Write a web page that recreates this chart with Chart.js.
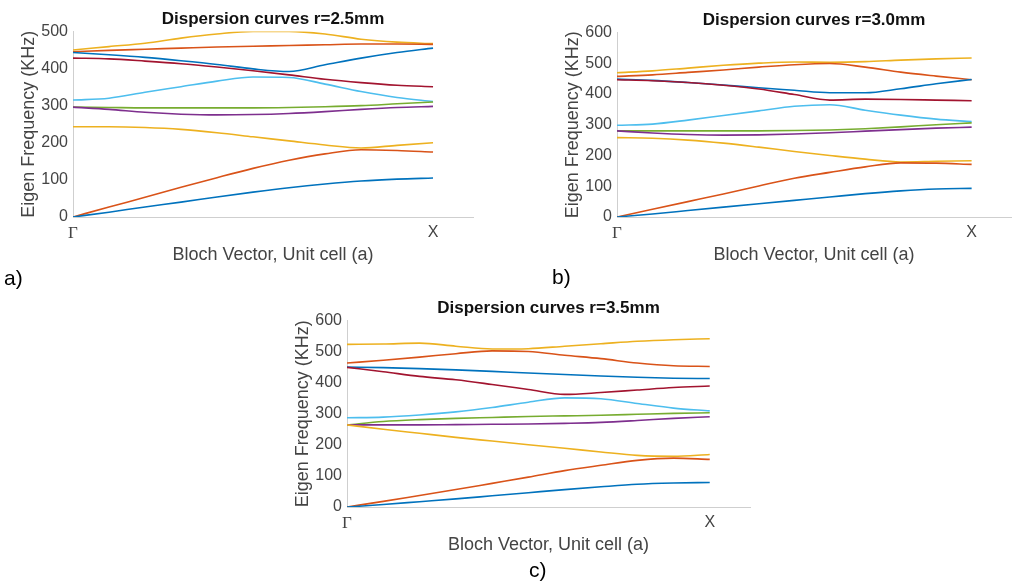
<!DOCTYPE html>
<html>
<head>
<meta charset="utf-8">
<script src="https://cdn.jsdelivr.net/npm/chart.js@4.4.1/dist/chart.umd.min.js"></script>
<style>
  body { margin: 0; background: #fff; width: 1012px; height: 583px; overflow: hidden; position: relative; }
  canvas { position: absolute; }
  .tag { position: absolute; font: 21px Arial, "Liberation Sans", sans-serif; color: #000; }
</style>
</head>
<body>
<canvas id="chartA" width="480" height="271" style="left:0px;top:1px;width:480px;height:271px"></canvas>
<canvas id="chartB" width="468" height="270" style="left:544px;top:2px;width:468px;height:270px"></canvas>
<canvas id="chartC" width="490" height="272" style="left:274px;top:290px;width:490px;height:272px"></canvas>
<div class="tag" style="left:4px;top:266px">a)</div>
<div class="tag" style="left:552px;top:265px">b)</div>
<div class="tag" style="left:529px;top:558px">c)</div>
<script>
// wave vector samples from Gamma (0) to X (1)
var kPoints = [0, 0.1, 0.2, 0.3, 0.4, 0.5, 0.6, 0.7, 0.8, 0.9, 1.0];
var xTickLabels = ['Γ', 'X'];
var yTicksA = [0, 100, 200, 300, 400, 500];
var yTicksBC = [0, 100, 200, 300, 400, 500, 600];

// matlab default line order
var bandColors = ['#0072BD', '#D95319', '#EDB120', '#7E2F8E', '#77AC30', '#4DBEEE', '#A2142F',
                  '#0072BD', '#D95319', '#EDB120'];

// r = 2.5mm, bands 1..10 (kHz)
var bandsA = [
  [0, 13, 27, 40, 54, 67, 79, 89, 97, 102, 105],
  [0, 27, 53, 80, 106, 131, 153, 170, 181, 179, 175],
  [243, 243, 241, 236, 227, 216, 205, 194, 186, 193, 200],
  [296, 290, 282, 277, 275, 276, 279, 284, 290, 295, 298],
  [296, 295, 294, 294, 294, 294, 295, 297, 300, 305, 310],
  [315, 320, 336, 351, 366, 377, 376, 358, 338, 322, 311],
  [428, 426, 420, 413, 404, 394, 383, 371, 362, 355, 351],
  [443, 437, 430, 421, 411, 399, 392, 410, 428, 443, 455],
  [445, 449, 452, 455, 458, 460, 462, 464, 466, 466, 465],
  [450, 459, 468, 482, 493, 500, 500, 493, 479, 471, 467]
];

// r = 3.0mm
var bandsB = [
  [0, 10, 21, 32, 43, 54, 65, 76, 85, 91, 93],
  [0, 25, 50, 75, 101, 126, 145, 163, 176, 175, 171],
  [258, 256, 250, 240, 227, 213, 200, 188, 179, 181, 183],
  [280, 273, 268, 266, 267, 270, 274, 279, 284, 289, 292],
  [280, 280, 280, 280, 280, 281, 283, 287, 293, 300, 306],
  [298, 302, 315, 330, 345, 360, 365, 347, 331, 318, 310],
  [446, 443, 437, 428, 416, 398, 380, 383, 382, 380, 378],
  [448, 444, 437, 429, 420, 412, 404, 404, 417, 433, 447],
  [457, 462, 470, 478, 487, 495, 499, 487, 471, 458, 446],
  [469, 475, 484, 493, 500, 504, 503, 505, 510, 514, 517]
];

// r = 3.5mm
var bandsC = [
  [0, 8, 17, 26, 36, 46, 56, 65, 73, 77, 79],
  [0, 18, 37, 56, 76, 96, 117, 134, 150, 157, 153],
  [264, 250, 237, 224, 212, 200, 189, 177, 166, 163, 169],
  [264, 264, 264, 265, 266, 267, 269, 272, 278, 285, 290],
  [264, 275, 281, 285, 288, 291, 293, 295, 298, 301, 303],
  [287, 289, 296, 306, 320, 337, 351, 348, 333, 318, 309],
  [449, 435, 420, 409, 394, 378, 362, 368, 376, 384, 389],
  [450, 448, 445, 441, 436, 431, 426, 421, 417, 414, 413],
  [463, 472, 482, 493, 502, 500, 488, 477, 463, 454, 452],
  [523, 524, 527, 517, 508, 509, 517, 525, 533, 538, 541]
];

var sans = 'Arial, "Liberation Sans", sans-serif';

function makeChart(id, titleText, bands, yTicks, padRight) {
  var datasets = bands.map(function (vals, i) {
    return {
      label: 'band ' + (i + 1),
      data: kPoints.map(function (k, j) { return { x: k, y: vals[j] }; }),
      borderColor: bandColors[i],
      borderWidth: 1.6,
      pointRadius: 0,
      fill: false,
      cubicInterpolationMode: 'monotone'
    };
  });
  return new Chart(document.getElementById(id), {
    type: 'line',
    data: { datasets: datasets },
    options: {
      responsive: false,
      animation: false,
      layout: { padding: { left: 0, right: padRight, top: 0, bottom: 0 } },
      plugins: {
        legend: { display: false },
        tooltip: { enabled: false },
        title: {
          display: true,
          text: titleText,
          fullSize: false,
          color: '#111',
          font: { family: sans, size: 17, weight: 'bold' },
          padding: { top: 8, bottom: 2 }
        }
      },
      scales: {
        x: {
          type: 'linear',
          min: 0,
          max: 1.111,
          afterBuildTicks: function (axis) {
            axis.ticks = [{ value: 0 }, { value: 1 }];
          },
          afterFit: function (axis) { axis.height = 55; },
          grid: { display: false, drawTicks: false },
          border: { display: true, color: '#cfcfcf', width: 1 },
          ticks: {
            padding: 6,
            color: '#444',
            maxRotation: 0,
            autoSkip: false,
            font: function (ctx) {
              if (ctx.tick && ctx.tick.value === 0) {
                return { family: '"Liberation Serif", "Times New Roman", serif', size: 17 };
              }
              return { family: sans, size: 16 };
            },
            callback: function (v) { return v === 0 ? xTickLabels[0] : xTickLabels[1]; }
          },
          title: {
            display: true,
            text: 'Bloch Vector, Unit cell (a)',
            color: '#444',
            font: { family: sans, size: 18 },
            padding: { top: 0, bottom: 6 }
          }
        },
        y: {
          min: 0,
          max: yTicks[yTicks.length - 1],
          afterBuildTicks: function (axis) {
            axis.ticks = yTicks.map(function (v) { return { value: v }; });
          },
          afterFit: function (axis) { axis.width = 73; },
          grid: { display: false, drawTicks: false },
          border: { display: true, color: '#cfcfcf', width: 1 },
          ticks: {
            padding: 5,
            color: '#444',
            font: { family: sans, size: 16 }
          },
          title: {
            display: true,
            text: 'Eigen Frequency (KHz)',
            color: '#444',
            font: { family: sans, size: 18 },
            padding: { top: 18, bottom: 0 }
          }
        }
      }
    }
  });
}

makeChart('chartA', 'Dispersion curves r=2.5mm', bandsA, yTicksA, 7);
makeChart('chartB', 'Dispersion curves r=3.0mm', bandsB, yTicksBC, 1);
makeChart('chartC', 'Dispersion curves r=3.5mm', bandsC, yTicksBC, 14);
</script>
</body>
</html>
